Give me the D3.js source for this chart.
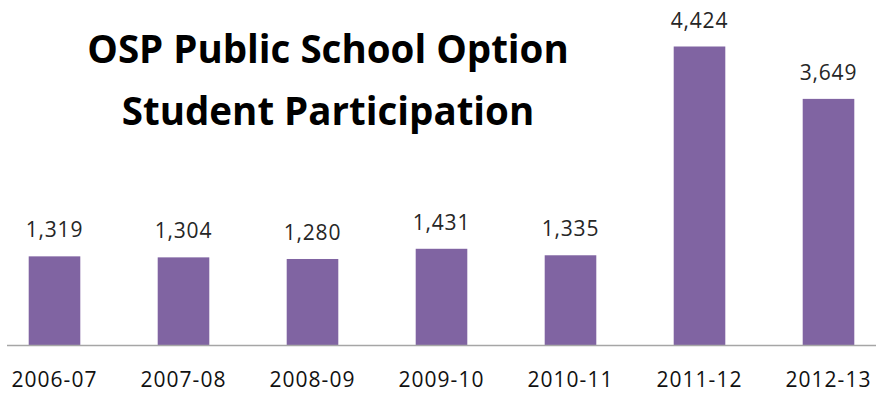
<!DOCTYPE html>
<html><head><meta charset="utf-8">
<script src="https://cdn.jsdelivr.net/npm/d3@7"></script>
<style>body{margin:0;background:#fff}svg{display:block}</style>
</head><body>
<script>
const categories = ["2006-07","2007-08","2008-09","2009-10","2010-11","2011-12","2012-13"];
const values = [1319,1304,1280,1431,1335,4424,3649];
const titleLines = ["OSP Public School Option","Student Participation"];

const W = 885, H = 393;
const svg = d3.select("body").append("svg").attr("width",W).attr("height",H);
const font = "'Open Sans', sans-serif";

const x = d3.scaleBand().domain(categories).range([-10,893]).paddingInner(0.6).paddingOuter(0.3);
const y = d3.scaleLinear().domain([0,4424]).range([345.5,46.5]);

svg.selectAll("rect.bar").data(values).enter().append("rect")
  .attr("class","bar")
  .attr("x",(d,i)=>x(categories[i]))
  .attr("width",x.bandwidth())
  .attr("y",d=>y(d))
  .attr("height",d=>y(0)-y(d))
  .attr("fill","#8064A2");

svg.append("line").attr("x1",7).attr("x2",876).attr("y1",y(0)).attr("y2",y(0))
  .attr("stroke","#a6a6a6").attr("stroke-width",1.5);

const fmt = d3.format(",");
svg.selectAll("text.val").data(values).enter().append("text")
  .attr("class","val")
  .attr("x",(d,i)=>x(categories[i])+x.bandwidth()/2)
  .attr("y",d=>y(d)-19)
  .attr("text-anchor","middle")
  .attr("font-family",font).attr("font-size",21)
  .attr("letter-spacing",0.8)
  .attr("fill","#262626")
  .text(d=>fmt(d));

const xAxis = d3.axisBottom(x).tickSize(0).tickPadding(0);
const gx = svg.append("g").attr("transform",`translate(0,${y(0)})`).call(xAxis);
gx.select(".domain").remove();
gx.selectAll("text")
  .attr("y",41.5).attr("dy",null)
  .attr("font-family",font).attr("font-size",21)
  .attr("letter-spacing",1)
  .attr("fill","#111");

svg.selectAll("text.title").data(titleLines).enter().append("text")
  .attr("class","title")
  .attr("x",328).attr("y",(d,i)=>63+i*62)
  .attr("text-anchor","middle")
  .attr("font-family",font).attr("font-weight","bold").attr("font-size",38.5)
  .attr("fill","#000")
  .text(d=>d);
</script>
</body></html>
